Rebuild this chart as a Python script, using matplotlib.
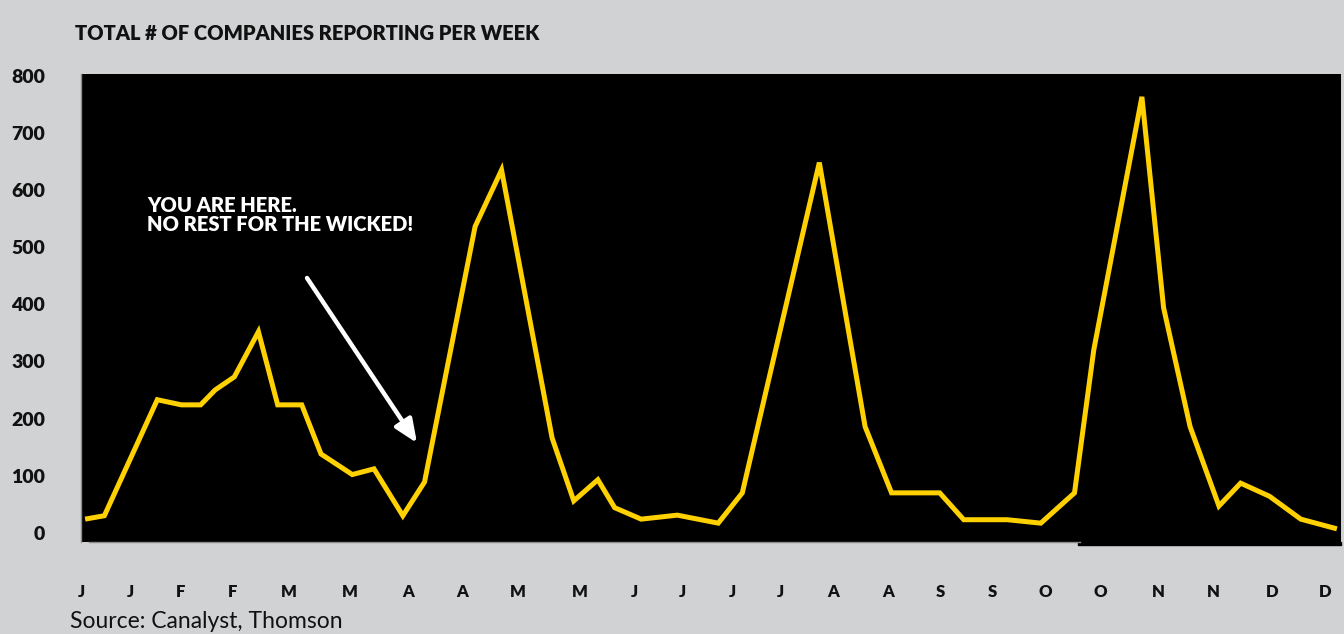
import matplotlib
matplotlib.use("Agg")
import matplotlib.pyplot as plt
from matplotlib.patches import Rectangle

# ---- data ----
weeks = [0, 0.8, 3.0, 4.0, 4.8, 5.4, 6.2, 7.2, 8.0, 9.0, 9.8, 11.1, 12.0, 13.2,
         14.1, 16.2, 17.3, 19.4, 20.3, 21.3, 22.0, 23.1, 24.6, 26.3, 27.3, 30.5,
         32.4, 33.5, 35.5, 36.5, 38.3, 39.7, 41.1, 41.9, 43.9, 44.8, 45.9, 47.1,
         48.0, 49.2, 50.5, 52.0]
companies = [24, 30, 233, 224, 224, 250, 273, 352, 224, 224, 138, 102, 112, 30,
             89, 536, 635, 166, 56, 93, 44, 24, 31, 17, 70, 648, 186, 70, 70, 23,
             23, 17, 70, 320, 763, 394, 186, 47, 87, 64, 24, 7]
month_labels = ['J', 'J', 'F', 'F', 'M', 'M', 'A', 'A', 'M', 'M', 'J', 'J',
                'J', 'J', 'A', 'A', 'S', 'S', 'O', 'O', 'N', 'N', 'D', 'D']
month_pos = [-0.17, 1.9, 3.96, 6.11, 8.46, 10.98, 13.41, 15.68, 17.99, 20.55,
             22.82, 24.8, 26.87, 28.89, 31.08, 33.35, 35.53, 37.68, 39.87,
             42.18, 44.57, 46.88, 49.32, 51.5]
y_ticks = [0, 100, 200, 300, 400, 500, 600, 700, 800]

title = "TOTAL # OF COMPANIES REPORTING PER WEEK"
note = "YOU ARE HERE.\nNO REST FOR THE WICKED!"
source = "Source: Canalyst, Thomson"

BG = "#d1d2d4"
YELLOW = "#ffd100"
FONT = ["Lato", "DejaVu Sans"]

W, H = 1344, 634
fig = plt.figure(figsize=(W / 100, H / 100), dpi=100, facecolor=BG)

def fx(px):
    return px / W

def fy(py):
    return 1 - py / H

ax = fig.add_axes([fx(81), fy(542), fx(1341) - fx(81), fy(74) - fy(542)])
ax.set_facecolor("black")

ax.plot(weeks, companies, color=YELLOW, lw=3.6, solid_joinstyle="miter",
        solid_capstyle="butt", clip_on=False, zorder=3)

ax.set_xlim(0.165, 52.17)
ax.set_ylim(-16, 803)

ax.set_yticks(y_ticks)
ax.set_yticklabels([str(v) for v in y_ticks], fontsize=14, fontweight="heavy",
                   family=FONT, color="#111111")
ax.set_xticks(month_pos)
ax.set_xticklabels(month_labels, fontsize=12, fontweight="heavy", family=FONT,
                   color="#111111")
ax.tick_params(axis="y", length=0, pad=26)
ax.tick_params(axis="x", length=0, pad=30)

for s in ["top", "right"]:
    ax.spines[s].set_visible(False)
ax.spines["left"].set_color("#8a8a8a")
ax.spines["left"].set_linewidth(1.0)
ax.spines["bottom"].set_color("#8a8a8a")
ax.spines["bottom"].set_linewidth(1.0)
# bottom axis line stops where the black panel drops a little lower
x_stop = 0.165 + (1078 - 81) / (1341 - 81) * (52.17 - 0.165)
ax.spines["bottom"].set_bounds(0.165, x_stop)
ax.add_patch(Rectangle(((1078 - 81) / (1341 - 81), -3 / 468),
                       1 - (1078 - 81) / (1341 - 81), 3 / 468,
                       transform=ax.transAxes, color="black", clip_on=False,
                       zorder=1))

fig.text(fx(75), fy(33), title, fontsize=14.5, fontweight="heavy", family=FONT,
         color="#111111", va="center", ha="left")
fig.text(fx(147), fy(215), note, fontsize=14.5, fontweight="heavy", family=FONT,
         color="white", va="center", ha="left", linespacing=1.05)
fig.text(fx(70), fy(622), source, fontsize=16.5, family=FONT, color="#111111",
         va="center", ha="left")

ax.annotate("", xy=(fx(417), fy(443)), xycoords="figure fraction",
            xytext=(fx(307), fy(278)), textcoords="figure fraction",
            arrowprops=dict(arrowstyle="-|>,head_length=1.4,head_width=0.6",
                            color="white", lw=3.2, shrinkA=0, shrinkB=0))

fig.savefig("out.png", dpi=100, facecolor=BG)
